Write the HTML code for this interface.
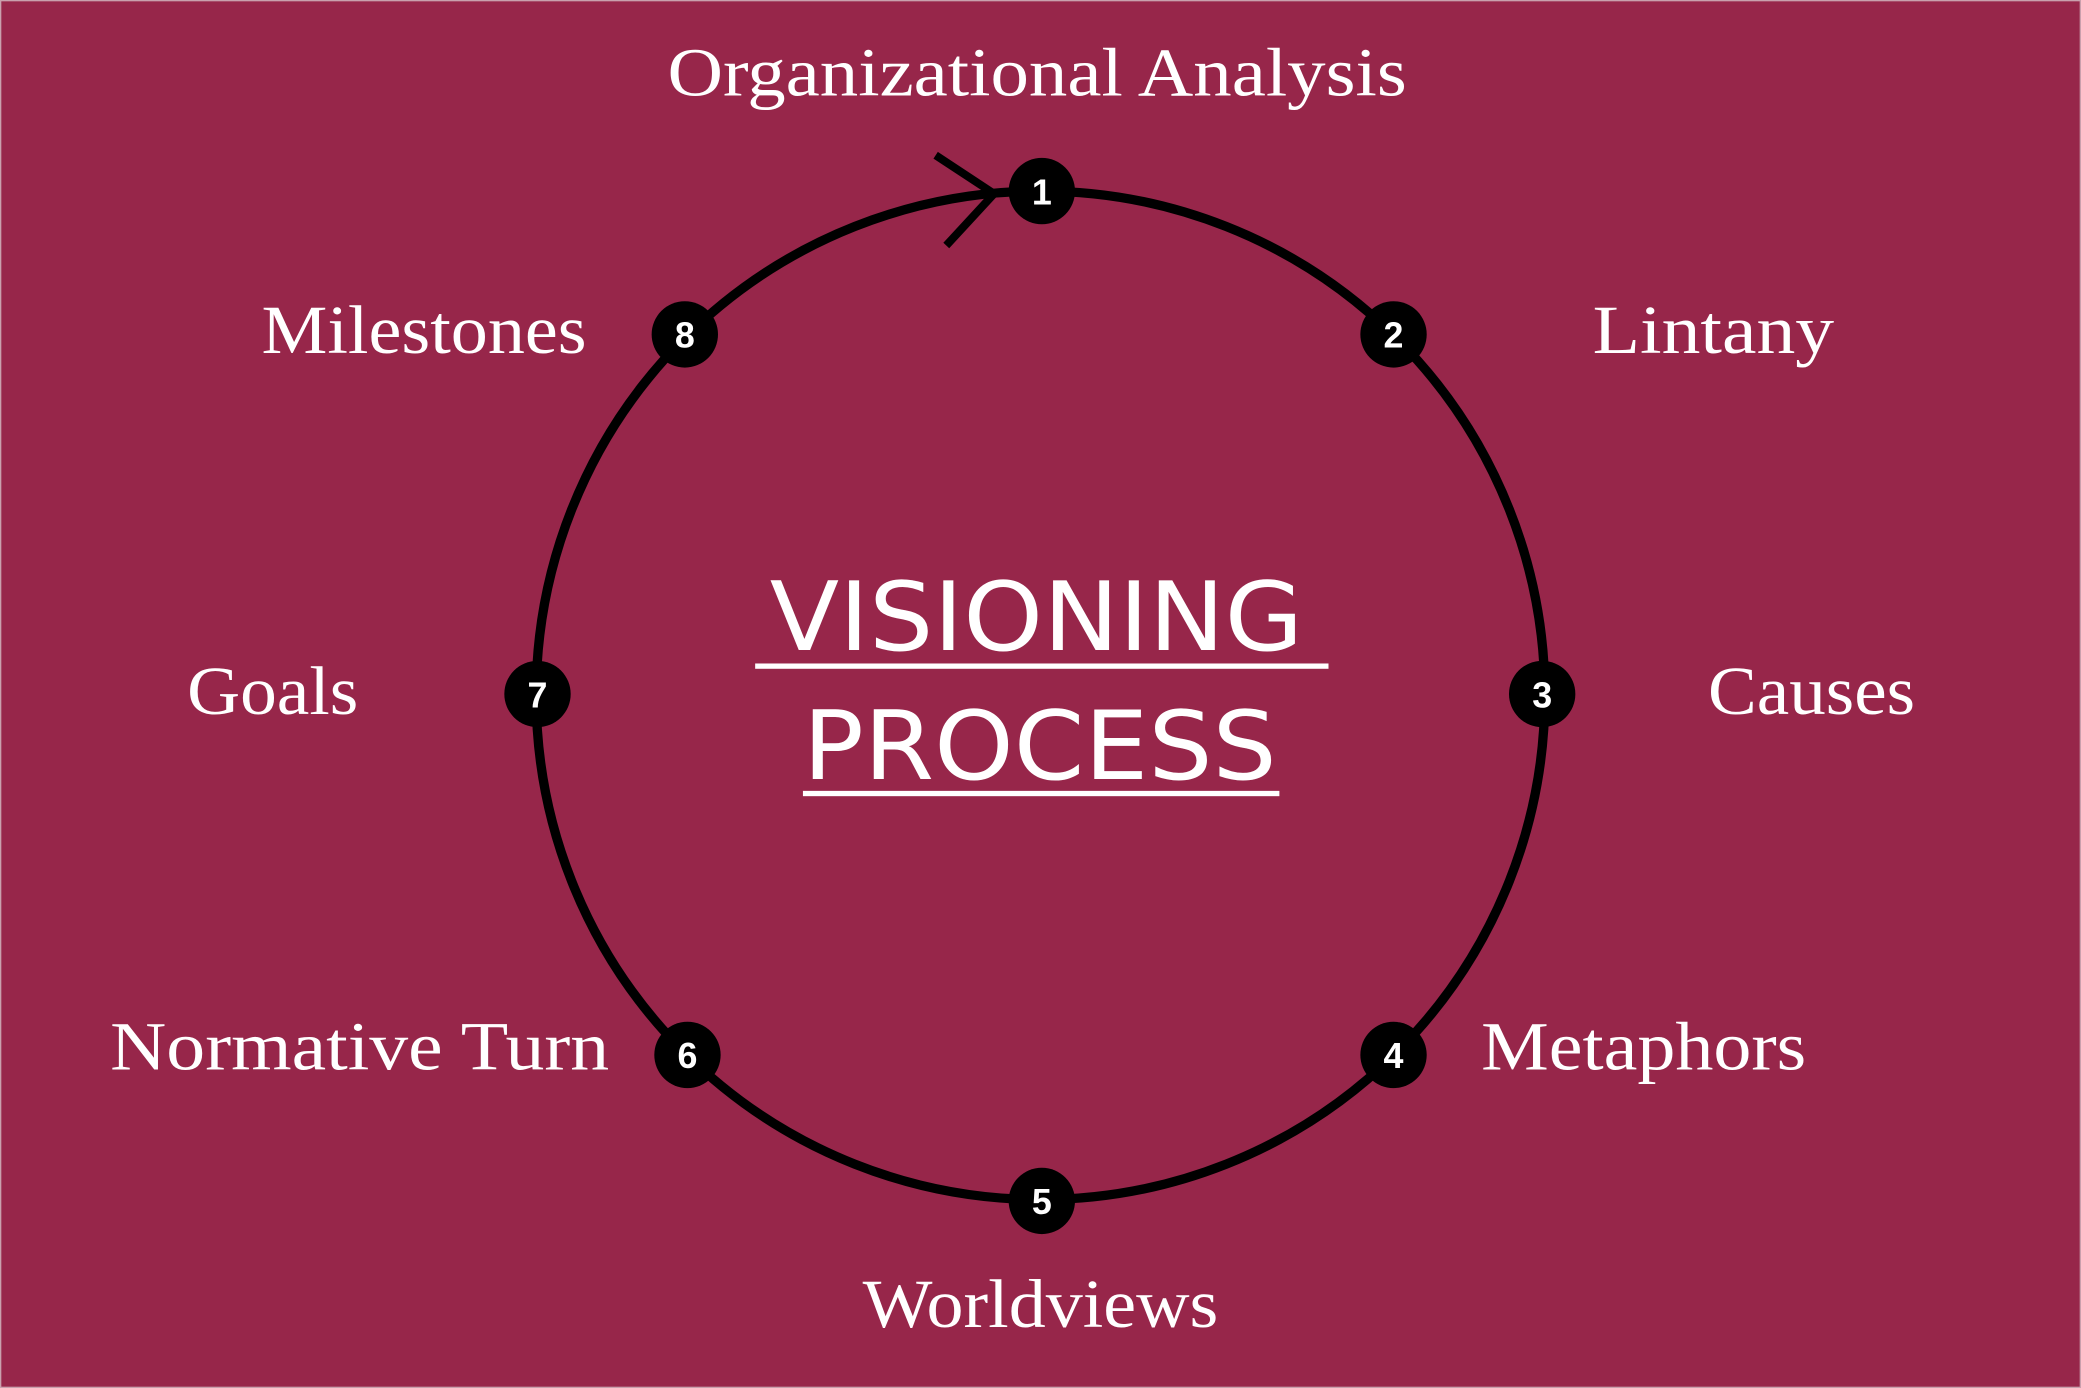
<!DOCTYPE html>
<html><head><meta charset="utf-8"><style>
html,body{margin:0;padding:0;background:#97264a;}
svg{display:block}
</style></head><body>
<svg width="2081" height="1388" viewBox="0 0 1568 1046" preserveAspectRatio="none" xmlns="http://www.w3.org/2000/svg">
<rect x="0" y="0" width="1568" height="1046" fill="#97264a"/>
<rect x="0.5" y="0.5" width="1567" height="1045" fill="none" stroke="#c9a0ad" stroke-width="1"/>
<circle cx="784" cy="524" r="380" fill="none" stroke="#000" stroke-width="7"/>
<polyline points="705,117 749,146 713,185" fill="none" stroke="#000" stroke-width="6"/>
<g fill="#000">
<circle cx="785" cy="144" r="25"/>
<circle cx="1050" cy="252" r="25"/>
<circle cx="1162" cy="523" r="25"/>
<circle cx="1050" cy="795" r="25"/>
<circle cx="785" cy="905" r="25"/>
<circle cx="518" cy="795" r="25"/>
<circle cx="405" cy="523" r="25"/>
<circle cx="516" cy="252" r="25"/>
</g>
<g fill="#fff" font-family="Liberation Sans, sans-serif" font-weight="bold" font-size="27" text-anchor="middle">
<text x="785" y="154">1</text>
<text x="1050" y="262">2</text>
<text x="1162" y="533">3</text>
<text x="1050" y="805">4</text>
<text x="785" y="915">5</text>
<text x="518" y="805">6</text>
<text x="405" y="533">7</text>
<text x="516" y="262">8</text>
</g>
<g fill="#fff" font-family="Liberation Serif, serif" font-size="52">
<text x="503" y="72" textLength="557" lengthAdjust="spacingAndGlyphs">Organizational Analysis</text>
<text x="1200" y="266" textLength="182" lengthAdjust="spacingAndGlyphs">Lintany</text>
<text x="197" y="266" textLength="245" lengthAdjust="spacingAndGlyphs">Milestones</text>
<text x="1287" y="538" textLength="156" lengthAdjust="spacingAndGlyphs">Causes</text>
<text x="141" y="538" textLength="129" lengthAdjust="spacingAndGlyphs">Goals</text>
<text x="1116" y="806" textLength="245" lengthAdjust="spacingAndGlyphs">Metaphors</text>
<text x="83" y="806" textLength="376" lengthAdjust="spacingAndGlyphs">Normative Turn</text>
<text x="650" y="1000" textLength="268" lengthAdjust="spacingAndGlyphs">Worldviews</text>
</g>
<g fill="#fff" font-family="DejaVu Sans, Liberation Sans, sans-serif" font-size="72">
<text x="580" y="490" textLength="402" lengthAdjust="spacingAndGlyphs">VISIONING</text>
<text x="605" y="587" textLength="357" lengthAdjust="spacingAndGlyphs">PROCESS</text>
</g>
<rect x="569" y="500" width="432" height="4" fill="#fff"/>
<rect x="605" y="596" width="359" height="4" fill="#fff"/>
</svg>
</body></html>
